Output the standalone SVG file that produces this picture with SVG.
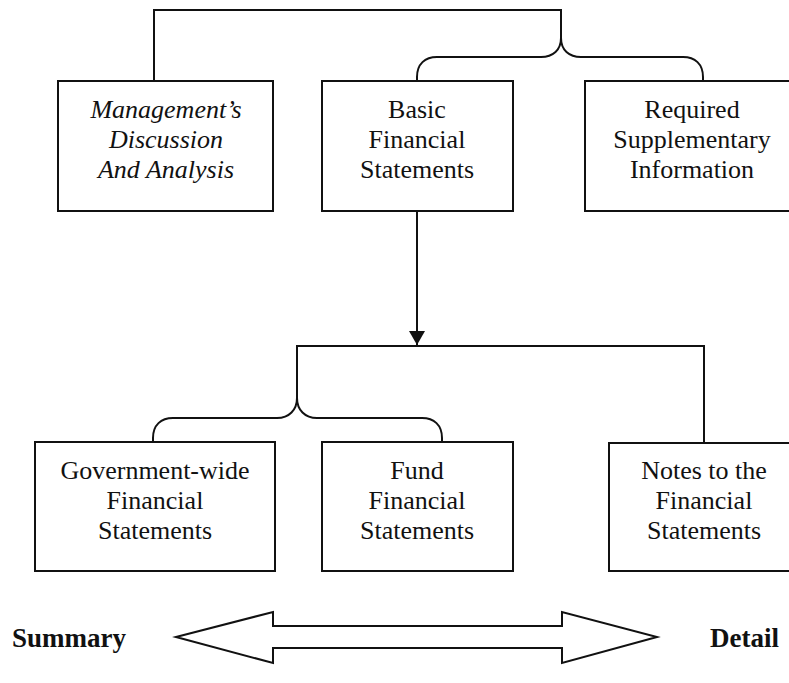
<svg xmlns="http://www.w3.org/2000/svg" width="789" height="683" viewBox="0 0 789 683">
<style>
.box{fill:#fff;stroke:#111;stroke-width:2}
.ln{fill:none;stroke:#111;stroke-width:2}
text{font-family:"Liberation Serif","Times New Roman",serif;font-size:26px;fill:#111;text-anchor:middle}
.it{font-style:italic}
.bd{font-weight:bold;text-anchor:start;font-size:27px}
</style>
<rect width="789" height="683" fill="#fff"/>
<g id="connectors">
<path class="ln" d="M154,81 V10 H561 V38 C561,50 553,57 541,57 H437 C425,57 417,64 417,77 V81"/>
<path class="ln" d="M561,38 C561,50 569,57 581,57 H683 C695,57 703,64 703,77 V81"/>
<line class="ln" x1="417" y1="211" x2="417" y2="345"/>
<path d="M409,331 L425,331 L417,345 Z" fill="#111"/>
<path class="ln" d="M704,443 V346 H297 V398 C297,410 289,418 277,418 H173 C161,418 153,425 153,438 V442"/>
<path class="ln" d="M297,398 C297,410 305,418 317,418 H422 C434,418 442,425 442,438 V442"/>
<path class="ln" d="M176,637 L273,612 L273,626 L562,626 L562,612 L657,637 L562,663 L562,648 L273,648 L273,663 Z"/>
</g>
<g id="mda">
<rect class="box" x="58" y="81" width="215" height="130"/>
<text class="it" x="166" y="118">Management’s</text>
<text class="it" x="166" y="148">Discussion</text>
<text class="it" x="166" y="178">And Analysis</text>
</g>
<g id="basic">
<rect class="box" x="322" y="81" width="191" height="130"/>
<text x="417" y="118">Basic</text>
<text x="417" y="148">Financial</text>
<text x="417" y="178">Statements</text>
</g>
<g id="rsi">
<rect class="box" x="585" y="81" width="215" height="130"/>
<text x="692" y="118">Required</text>
<text x="692" y="148">Supplementary</text>
<text x="692" y="178">Information</text>
</g>
<g id="govwide">
<rect class="box" x="35" y="442" width="240" height="129"/>
<text x="155" y="479">Government-wide</text>
<text x="155" y="509">Financial</text>
<text x="155" y="539">Statements</text>
</g>
<g id="fund">
<rect class="box" x="322" y="442" width="191" height="129"/>
<text x="417" y="479">Fund</text>
<text x="417" y="509">Financial</text>
<text x="417" y="539">Statements</text>
</g>
<g id="notes">
<rect class="box" x="609" y="443" width="200" height="128"/>
<text x="704" y="479">Notes to the</text>
<text x="704" y="509">Financial</text>
<text x="704" y="539">Statements</text>
</g>
<g id="legend">
<text class="bd" x="12" y="647">Summary</text>
<text class="bd" x="710" y="647">Detail</text>
</g>
</svg>
